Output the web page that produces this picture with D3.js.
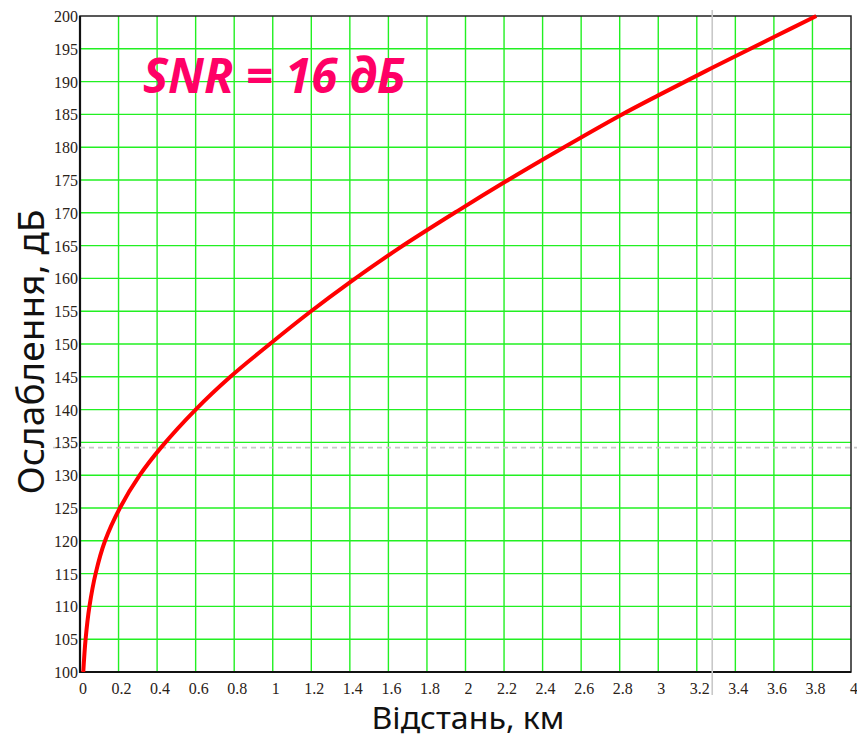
<!DOCTYPE html>
<html>
<head>
<meta charset="utf-8">
<script src="https://cdn.jsdelivr.net/npm/d3@7"></script>
<style>
  html, body { margin: 0; padding: 0; background: #fff; }
  svg { display: block; }
</style>
</head>
<body>
<svg id="chart" width="857" height="737"></svg>
<script>
// Distance, km
const distanceKm = [0.017, 0.029, 0.049, 0.081, 0.13, 0.207, 0.31, 0.42, 0.6, 0.78, 0.985, 1.19, 1.40, 1.65, 1.96, 2.21, 2.5, 2.8, 3.0, 3.28, 3.6, 3.82];
// Attenuation, dB
const attenuationDb = [100, 105, 110, 115, 120, 125, 130, 134.2, 140, 145, 150, 154.8, 159.4, 164.5, 170.3, 174.8, 179.8, 184.8, 187.9, 192.1, 196.8, 200];

const xTicks = [0, 0.2, 0.4, 0.6, 0.8, 1, 1.2, 1.4, 1.6, 1.8, 2, 2.2, 2.4, 2.6, 2.8, 3, 3.2, 3.4, 3.6, 3.8, 4];
const yTicks = d3.range(100, 201, 5);

// Marker lines
const markerDistance = [3.28];
const markerAttenuation = [134.2];

const titleText = "SNR = 16 дБ";
const xTitle = "Відстань, км";
const yTitle = "Ослаблення, дБ";

const svg = d3.select("#chart");
const plotLeft = 80, plotRight = 851, plotTop = 16, plotBottom = 672;

const x = d3.scaleLinear().domain([0, 4]).range([plotLeft, plotRight]);
const y = d3.scaleLinear().domain([100, 200]).range([plotBottom, plotTop]);

// grid
const grid = svg.append("g");
grid.selectAll("line.vx").data(xTicks.filter(t => t > 0 && t < 4)).join("line")
  .attr("x1", d => x(d)).attr("x2", d => x(d))
  .attr("y1", plotTop).attr("y2", plotBottom)
  .attr("stroke", "#22f022").attr("stroke-width", 1.4);
grid.selectAll("line.hy").data(yTicks.filter(t => t > 100 && t < 200)).join("line")
  .attr("x1", plotLeft).attr("x2", plotRight)
  .attr("y1", d => y(d)).attr("y2", d => y(d))
  .attr("stroke", "#22f022").attr("stroke-width", 1.4);

// frame
svg.append("rect").attr("x", plotLeft).attr("y", plotTop)
  .attr("width", plotRight - plotLeft).attr("height", plotBottom - plotTop)
  .attr("fill", "none").attr("stroke", "#222").attr("stroke-width", 1.5);
svg.append("line").attr("x1", plotLeft).attr("x2", plotLeft).attr("y1", plotTop).attr("y2", plotBottom + 1)
  .attr("stroke", "#111").attr("stroke-width", 2.2);
svg.append("line").attr("x1", plotLeft).attr("x2", plotRight).attr("y1", plotBottom).attr("y2", plotBottom)
  .attr("stroke", "#111").attr("stroke-width", 2.2);

// marker lines
svg.selectAll("line.mv").data(markerDistance).join("line")
  .attr("x1", d => x(d)).attr("x2", d => x(d))
  .attr("y1", 10).attr("y2", 695)
  .attr("stroke", "#c8c8c8").attr("stroke-width", 1.6);
svg.selectAll("line.mh").data(markerAttenuation).join("line")
  .attr("x1", 53).attr("x2", 857)
  .attr("y1", d => y(d)).attr("y2", d => y(d))
  .attr("stroke", "#c8c8c8").attr("stroke-width", 1.6)
  .attr("stroke-dasharray", "5,4");

// curve
const pts = distanceKm.map((d, i) => [d, attenuationDb[i]]);
const line = d3.line().x(d => x(d[0])).y(d => y(d[1])).curve(d3.curveCatmullRom.alpha(0.5));
svg.append("path").datum(pts).attr("d", line)
  .attr("fill", "none").attr("stroke", "#ff0000").attr("stroke-width", 4)
  .attr("stroke-linejoin", "round");

// tick labels
const tickFont = "'Liberation Serif', 'DejaVu Serif', serif";
svg.append("g").selectAll("text").data(yTicks).join("text")
  .attr("x", 78).attr("y", d => y(d) + 6)
  .attr("text-anchor", "end")
  .attr("font-family", tickFont).attr("font-size", 16)
  .attr("fill", "#2a2218")
  .text(d => d);
svg.append("g").selectAll("text").data(xTicks).join("text")
  .attr("x", d => x(d) + 3).attr("y", 694)
  .attr("text-anchor", "middle")
  .attr("font-family", tickFont).attr("font-size", 16)
  .attr("fill", "#2a2218")
  .text(d => d);

// axis titles
svg.append("text")
  .attr("x", 468).attr("y", 729)
  .attr("text-anchor", "middle")
  .attr("font-family", "'Noto Sans', 'Open Sans', sans-serif")
  .attr("font-size", 30).attr("fill", "#111")
  .attr("textLength", 193).attr("lengthAdjust", "spacingAndGlyphs")
  .text(xTitle);
svg.append("text")
  .attr("transform", "translate(44,352) rotate(-90)")
  .attr("text-anchor", "middle")
  .attr("font-family", "'Noto Sans', 'Open Sans', sans-serif")
  .attr("font-size", 37).attr("fill", "#111")
  .attr("textLength", 285).attr("lengthAdjust", "spacingAndGlyphs")
  .text(yTitle);

// annotation
svg.append("text")
  .attr("x", 143).attr("y", 93)
  .attr("font-family", "'Noto Sans', 'Open Sans', sans-serif")
  .attr("font-size", 48).attr("font-weight", "bold").attr("font-style", "italic")
  .attr("fill", "#ff0066")
  .attr("textLength", 262).attr("lengthAdjust", "spacingAndGlyphs")
  .text(titleText);
</script>
</body>
</html>
